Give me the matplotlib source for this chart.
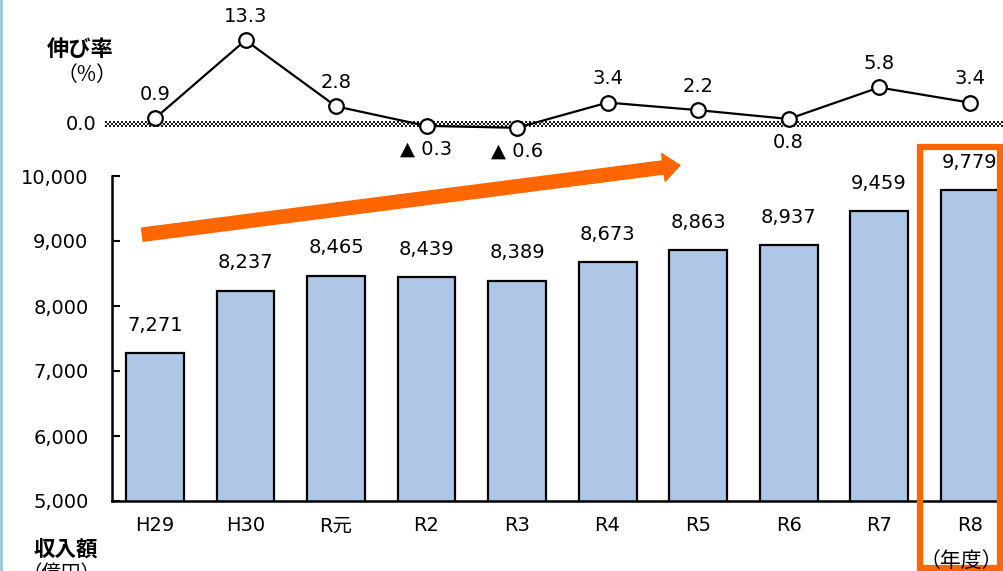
import matplotlib
matplotlib.use('Agg')
import matplotlib.pyplot as plt
from matplotlib.patches import Rectangle, FancyArrowPatch
from matplotlib.lines import Line2D
import matplotlib.transforms as mtransforms

plt.rcParams['font.family'] = ['DejaVu Sans', 'Noto Sans CJK JP']

# data
years = ['H29', 'H30', 'R元', 'R2', 'R3', 'R4', 'R5', 'R6', 'R7', 'R8']
revenue = [7271, 8237, 8465, 8439, 8389, 8673, 8863, 8937, 9459, 9779]
growth = [0.9, 13.3, 2.8, -0.3, -0.6, 3.4, 2.2, 0.8, 5.8, 3.4]
# label placed above (1) or below (-1) the point
growth_side = [1, 1, 1, -1, -1, 1, 1, -1, 1, 1]

W, H = 1004, 571
fig = plt.figure(figsize=(W / 100, H / 100), dpi=100)

bar_color = '#AEC7E6'
orange = '#FF6600'
x = list(range(len(years)))
xlim = (-0.475, 9.38)
fs = 14

# bar chart
ax = fig.add_axes([112 / W, 70 / H, 1 - 112 / W, 325 / H])
ax.bar(x, revenue, width=0.64, color=bar_color, edgecolor='black', linewidth=1.6, zorder=2)
ax.set_xlim(*xlim)
ax.set_ylim(5000, 10000)
ax.set_yticks(range(5000, 10001, 1000))
ax.set_yticklabels([f'{v:,}' for v in range(5000, 10001, 1000)])
ax.set_xticks(x)
ax.set_xticklabels(years)
ax.tick_params(axis='y', direction='in', length=6, width=1.5, labelsize=fs, pad=17)
ax.tick_params(axis='x', length=0, labelsize=fs, pad=11)
for s in ['top', 'right']:
    ax.spines[s].set_visible(False)
ax.spines['left'].set_linewidth(1.8)
ax.spines['bottom'].set_linewidth(1.8)

for xi, v in zip(x, revenue):
    ax.annotate(f'{v:,}', (xi, v), xytext=(0, 20), textcoords='offset points',
                ha='center', va='center', fontsize=fs)

# trend arrow
arrow = FancyArrowPatch((-0.17, 9092), (5.83, 10170),
                        arrowstyle='simple,head_width=2.0,head_length=1.2,tail_width=0.95',
                        mutation_scale=10, color=orange, clip_on=False, zorder=5)
ax.add_patch(arrow)

# highlight box around R8
box = Rectangle((8.45, 3970), 0.89, 6480, fill=False, edgecolor=orange,
                linewidth=4.5, clip_on=False, zorder=6)
ax.add_patch(box)

# growth rate line
ax2 = fig.add_axes([112 / W, 421 / H, 1 - 112 / W, 140 / H])
s = 6.3
ax2.set_xlim(*xlim)
ax2.set_ylim(-26 / s, 114 / s)
ax2.axis('off')

# checkered zero line (rows of alternating squares)
tr = ax2.transData
zx = [-0.55, xlim[1]]
for dy, dash in [(2.0, (1, 1)), (0.0, (0, 1, 1, 0)), (-2.0, (1, 1))]:
    off = mtransforms.offset_copy(tr, fig=fig, x=0, y=dy * 0.72, units='points')
    ax2.plot(zx, [0, 0], color='#1a1a1a', lw=1.44, dashes=dash,
             dash_capstyle='butt', solid_capstyle='butt', transform=off,
             zorder=1, clip_on=False)

ax2.plot(x, growth, color='black', lw=1.6, marker='o', markersize=10.5,
         markerfacecolor='white', markeredgecolor='black', markeredgewidth=1.6,
         zorder=3, clip_on=False)

for xi, v, side in zip(x, growth, growth_side):
    label = f'{v:.1f}' if v >= 0 else f'▲ {abs(v):.1f}'
    ax2.annotate(label, (xi, v), xytext=(0, 17 * side), textcoords='offset points',
                 ha='center', va='center', fontsize=fs)

ax2.annotate('0.0', (zx[0], 0), xytext=(-6, 0), textcoords='offset points',
             ha='right', va='center', fontsize=fs, annotation_clip=False)

# side labels
cjk = 'Noto Sans CJK JP'
fig.text(80 / W, 1 - 50 / H, '伸び率', ha='center', va='center', fontsize=16,
         fontweight='bold', family=cjk)
fig.text(87 / W, 1 - 75 / H, '（%）', ha='center', va='center', fontsize=15,
         family=cjk)
fig.text(66 / W, 1 - 549 / H, '収入額', ha='center', va='center', fontsize=15.5,
         fontweight='bold', family=cjk)
fig.text(62 / W, 1 - 563 / H, '（億円）', ha='center', va='top', fontsize=14,
         family=cjk)
fig.text(961 / W, 1 - 561 / H, '（年度）', ha='center', va='center', fontsize=15,
         family=cjk)

# thin border at left edge
fig.add_artist(Line2D([1 / W, 1 / W], [0, 1], color='#9DC3E6', lw=2,
                      transform=fig.transFigure))

fig.savefig('out.png', dpi=100)
